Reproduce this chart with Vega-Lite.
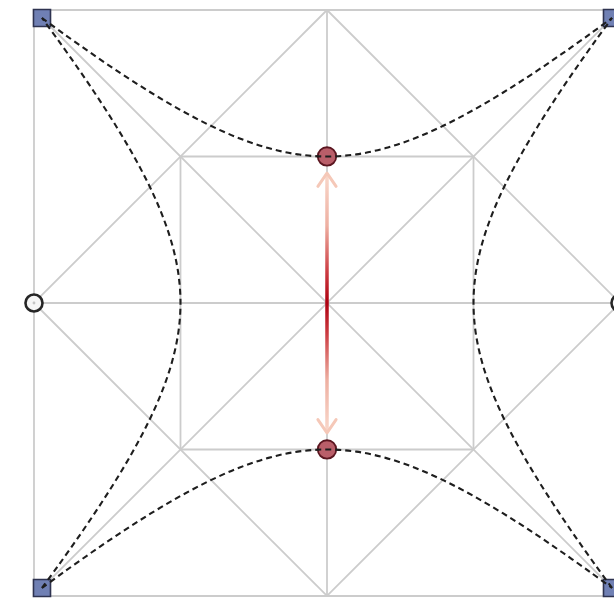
{
  "$schema": "https://vega.github.io/schema/vega-lite/v6.json",
  "width": 614,
  "height": 600,
  "autosize": {"type": "fit", "contains": "padding"},
  "padding": 0,
  "background": "white",
  "config": {"view": {"stroke": null}},
  "datasets": {
    "segs": [
      {"x": -1, "y": -1, "x2": 1, "y2": -1},
      {"x": 1, "y": -1, "x2": 1, "y2": 1},
      {"x": 1, "y": 1, "x2": -1, "y2": 1},
      {"x": -1, "y": 1, "x2": -1, "y2": -1},
      {"x": 0, "y": 1, "x2": 1, "y2": 0},
      {"x": 1, "y": 0, "x2": 0, "y2": -1},
      {"x": 0, "y": -1, "x2": -1, "y2": 0},
      {"x": -1, "y": 0, "x2": 0, "y2": 1},
      {"x": -0.5, "y": -0.5, "x2": 0.5, "y2": -0.5},
      {"x": 0.5, "y": -0.5, "x2": 0.5, "y2": 0.5},
      {"x": 0.5, "y": 0.5, "x2": -0.5, "y2": 0.5},
      {"x": -0.5, "y": 0.5, "x2": -0.5, "y2": -0.5},
      {"x": -1, "y": -1, "x2": 1, "y2": 1},
      {"x": -1, "y": 1, "x2": 1, "y2": -1},
      {"x": -1, "y": 0, "x2": 1, "y2": 0},
      {"x": 0, "y": -1, "x2": 0, "y2": 1}
    ],
    "curves": [
      {"c": "t", "i": 0, "x": -0.9727, "y": 0.9727},
      {"c": "t", "i": 1, "x": -0.9, "y": 0.91976},
      {"c": "t", "i": 2, "x": -0.8, "y": 0.84905},
      {"c": "t", "i": 3, "x": -0.7, "y": 0.78136},
      {"c": "t", "i": 4, "x": -0.6, "y": 0.71755},
      {"c": "t", "i": 5, "x": -0.5, "y": 0.65874},
      {"c": "t", "i": 6, "x": -0.4, "y": 0.6064},
      {"c": "t", "i": 7, "x": -0.3, "y": 0.56233},
      {"c": "t", "i": 8, "x": -0.2, "y": 0.52861},
      {"c": "t", "i": 9, "x": -0.1, "y": 0.5073},
      {"c": "t", "i": 10, "x": 0, "y": 0.5},
      {"c": "t", "i": 11, "x": 0.1, "y": 0.5073},
      {"c": "t", "i": 12, "x": 0.2, "y": 0.52861},
      {"c": "t", "i": 13, "x": 0.3, "y": 0.56233},
      {"c": "t", "i": 14, "x": 0.4, "y": 0.6064},
      {"c": "t", "i": 15, "x": 0.5, "y": 0.65874},
      {"c": "t", "i": 16, "x": 0.6, "y": 0.71755},
      {"c": "t", "i": 17, "x": 0.7, "y": 0.78136},
      {"c": "t", "i": 18, "x": 0.8, "y": 0.84905},
      {"c": "t", "i": 19, "x": 0.9, "y": 0.91976},
      {"c": "t", "i": 20, "x": 0.9727, "y": 0.9727},

      {"c": "b", "i": 0, "x": -0.9727, "y": -0.9727},
      {"c": "b", "i": 1, "x": -0.9, "y": -0.91976},
      {"c": "b", "i": 2, "x": -0.8, "y": -0.84905},
      {"c": "b", "i": 3, "x": -0.7, "y": -0.78136},
      {"c": "b", "i": 4, "x": -0.6, "y": -0.71755},
      {"c": "b", "i": 5, "x": -0.5, "y": -0.65874},
      {"c": "b", "i": 6, "x": -0.4, "y": -0.6064},
      {"c": "b", "i": 7, "x": -0.3, "y": -0.56233},
      {"c": "b", "i": 8, "x": -0.2, "y": -0.52861},
      {"c": "b", "i": 9, "x": -0.1, "y": -0.5073},
      {"c": "b", "i": 10, "x": 0, "y": -0.5},
      {"c": "b", "i": 11, "x": 0.1, "y": -0.5073},
      {"c": "b", "i": 12, "x": 0.2, "y": -0.52861},
      {"c": "b", "i": 13, "x": 0.3, "y": -0.56233},
      {"c": "b", "i": 14, "x": 0.4, "y": -0.6064},
      {"c": "b", "i": 15, "x": 0.5, "y": -0.65874},
      {"c": "b", "i": 16, "x": 0.6, "y": -0.71755},
      {"c": "b", "i": 17, "x": 0.7, "y": -0.78136},
      {"c": "b", "i": 18, "x": 0.8, "y": -0.84905},
      {"c": "b", "i": 19, "x": 0.9, "y": -0.91976},
      {"c": "b", "i": 20, "x": 0.9727, "y": -0.9727},

      {"c": "l", "i": 0, "y": -0.9727, "x": -0.9727},
      {"c": "l", "i": 1, "y": -0.9, "x": -0.91976},
      {"c": "l", "i": 2, "y": -0.8, "x": -0.84905},
      {"c": "l", "i": 3, "y": -0.7, "x": -0.78136},
      {"c": "l", "i": 4, "y": -0.6, "x": -0.71755},
      {"c": "l", "i": 5, "y": -0.5, "x": -0.65874},
      {"c": "l", "i": 6, "y": -0.4, "x": -0.6064},
      {"c": "l", "i": 7, "y": -0.3, "x": -0.56233},
      {"c": "l", "i": 8, "y": -0.2, "x": -0.52861},
      {"c": "l", "i": 9, "y": -0.1, "x": -0.5073},
      {"c": "l", "i": 10, "y": 0, "x": -0.5},
      {"c": "l", "i": 11, "y": 0.1, "x": -0.5073},
      {"c": "l", "i": 12, "y": 0.2, "x": -0.52861},
      {"c": "l", "i": 13, "y": 0.3, "x": -0.56233},
      {"c": "l", "i": 14, "y": 0.4, "x": -0.6064},
      {"c": "l", "i": 15, "y": 0.5, "x": -0.65874},
      {"c": "l", "i": 16, "y": 0.6, "x": -0.71755},
      {"c": "l", "i": 17, "y": 0.7, "x": -0.78136},
      {"c": "l", "i": 18, "y": 0.8, "x": -0.84905},
      {"c": "l", "i": 19, "y": 0.9, "x": -0.91976},
      {"c": "l", "i": 20, "y": 0.9727, "x": -0.9727},

      {"c": "r", "i": 0, "y": -0.9727, "x": 0.9727},
      {"c": "r", "i": 1, "y": -0.9, "x": 0.91976},
      {"c": "r", "i": 2, "y": -0.8, "x": 0.84905},
      {"c": "r", "i": 3, "y": -0.7, "x": 0.78136},
      {"c": "r", "i": 4, "y": -0.6, "x": 0.71755},
      {"c": "r", "i": 5, "y": -0.5, "x": 0.65874},
      {"c": "r", "i": 6, "y": -0.4, "x": 0.6064},
      {"c": "r", "i": 7, "y": -0.3, "x": 0.56233},
      {"c": "r", "i": 8, "y": -0.2, "x": 0.52861},
      {"c": "r", "i": 9, "y": -0.1, "x": 0.5073},
      {"c": "r", "i": 10, "y": 0, "x": 0.5},
      {"c": "r", "i": 11, "y": 0.1, "x": 0.5073},
      {"c": "r", "i": 12, "y": 0.2, "x": 0.52861},
      {"c": "r", "i": 13, "y": 0.3, "x": 0.56233},
      {"c": "r", "i": 14, "y": 0.4, "x": 0.6064},
      {"c": "r", "i": 15, "y": 0.5, "x": 0.65874},
      {"c": "r", "i": 16, "y": 0.6, "x": 0.71755},
      {"c": "r", "i": 17, "y": 0.7, "x": 0.78136},
      {"c": "r", "i": 18, "y": 0.8, "x": 0.84905},
      {"c": "r", "i": 19, "y": 0.9, "x": 0.91976},
      {"c": "r", "i": 20, "y": 0.9727, "x": 0.9727}
    ],
    "shaft": [{"x": -0.006, "x2": 0.006, "y": -0.44, "y2": 0.44}],
    "heads": [
      {"a": "top", "i": 0, "x": -0.031, "y": 0.398},
      {"a": "top", "i": 1, "x": 0, "y": 0.443},
      {"a": "top", "i": 2, "x": 0.031, "y": 0.398},
      {"a": "bot", "i": 0, "x": -0.031, "y": -0.398},
      {"a": "bot", "i": 1, "x": 0, "y": -0.443},
      {"a": "bot", "i": 2, "x": 0.031, "y": -0.398}
    ],
    "squares": [
      {"x": -0.9727, "y": 0.9727},
      {"x": 0.9727, "y": 0.9727},
      {"x": -0.9727, "y": -0.9727},
      {"x": 0.9727, "y": -0.9727}
    ],
    "reds": [
      {"x": 0, "y": 0.5},
      {"x": 0, "y": -0.5}
    ],
    "hollows": [
      {"x": -1, "y": 0},
      {"x": 1, "y": 0}
    ]
  },
  "layer": [
    {
      "data": {"name": "segs"},
      "mark": {"type": "rule", "stroke": "#cccccc", "strokeWidth": 1.8, "clip": true},
      "encoding": {
        "x": {"field": "x", "type": "quantitative", "scale": {"domain": [-1.116, 0.9795], "nice": false, "zero": false}, "axis": null},
        "y": {"field": "y", "type": "quantitative", "scale": {"domain": [-1.0137, 1.0341], "nice": false, "zero": false}, "axis": null},
        "x2": {"field": "x2"},
        "y2": {"field": "y2"}
      }
    },
    {
      "data": {"name": "shaft"},
      "mark": {
        "type": "rect",
        "fill": {
          "gradient": "linear", "x1": 0, "y1": 0, "x2": 0, "y2": 1,
          "stops": [
            {"offset": 0, "color": "#f9d8cb"},
            {"offset": 0.2, "color": "#eeb0a2"},
            {"offset": 0.38, "color": "#cc3c42"},
            {"offset": 0.5, "color": "#ad0010"},
            {"offset": 0.62, "color": "#cc3c42"},
            {"offset": 0.8, "color": "#eeb0a2"},
            {"offset": 1, "color": "#f9d8cb"}
          ]
        }
      },
      "encoding": {
        "x": {"field": "x", "type": "quantitative", "axis": null},
        "x2": {"field": "x2"},
        "y": {"field": "y", "type": "quantitative", "axis": null},
        "y2": {"field": "y2"}
      }
    },
    {
      "data": {"name": "heads"},
      "mark": {"type": "line", "stroke": "#f5c8b8", "strokeWidth": 3, "strokeCap": "round", "strokeJoin": "round"},
      "encoding": {
        "x": {"field": "x", "type": "quantitative", "axis": null},
        "y": {"field": "y", "type": "quantitative", "axis": null},
        "detail": {"field": "a"},
        "order": {"field": "i"}
      }
    },
    {
      "data": {"name": "squares"},
      "mark": {"type": "point", "shape": "square", "size": 290, "filled": true, "fill": "#7080b4", "fillOpacity": 1, "stroke": "#2e3350", "strokeWidth": 1.6, "clip": true},
      "encoding": {
        "x": {"field": "x", "type": "quantitative", "axis": null},
        "y": {"field": "y", "type": "quantitative", "axis": null}
      }
    },
    {
      "data": {"name": "reds"},
      "mark": {"type": "point", "shape": "circle", "size": 340, "filled": true, "fill": "#b95e69", "fillOpacity": 1, "stroke": "#5b1620", "strokeWidth": 1.8},
      "encoding": {
        "x": {"field": "x", "type": "quantitative", "axis": null},
        "y": {"field": "y", "type": "quantitative", "axis": null}
      }
    },
    {
      "data": {"name": "hollows"},
      "mark": {"type": "point", "shape": "circle", "size": 290, "filled": true, "fill": "#f6f6f6", "fillOpacity": 1, "stroke": "#262626", "strokeWidth": 2.6, "clip": true},
      "encoding": {
        "x": {"field": "x", "type": "quantitative", "axis": null},
        "y": {"field": "y", "type": "quantitative", "axis": null}
      }
    },
    {
      "data": {"name": "hollows"},
      "mark": {"type": "point", "shape": "circle", "size": 8, "filled": true, "fill": "#b0b0b0", "clip": true},
      "encoding": {
        "x": {"field": "x", "type": "quantitative", "axis": null},
        "y": {"field": "y", "type": "quantitative", "axis": null}
      }
    },
    {
      "data": {"name": "curves"},
      "mark": {"type": "line", "stroke": "#1e1e1e", "strokeWidth": 2.1, "strokeDash": [6, 4], "interpolate": "catmull-rom", "clip": true},
      "encoding": {
        "x": {"field": "x", "type": "quantitative", "axis": null},
        "y": {"field": "y", "type": "quantitative", "axis": null},
        "detail": {"field": "c"},
        "order": {"field": "i"}
      }
    }
  ]
}
